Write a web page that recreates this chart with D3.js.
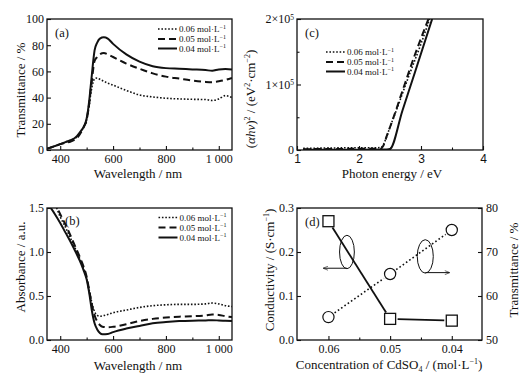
<!DOCTYPE html>
<html>
<head>
<meta charset="utf-8">
<script src="https://cdn.jsdelivr.net/npm/d3@7"></script>
<style>
  body { margin: 0; background: #fff; }
  svg { font-family: 'Liberation Serif', 'Times New Roman', serif; }
  text { fill: #111; }
</style>
</head>
<body>
<script>
// ---- data ----
const concLabels = ['0.06 mol·L', '0.05 mol·L', '0.04 mol·L']

// (a) transmittance spectra
const transWl = [350, 380, 400, 420, 440, 460, 480, 490, 500, 505, 510, 515, 520, 525, 530, 540, 550, 565, 580, 600, 650, 700, 750, 800, 850, 900, 950, 975, 1000, 1025, 1050]
const trans06 = [1, 3, 4.5, 6, 7.5, 9.5, 14.5, 18, 23, 28, 34, 42, 48, 52, 54.5, 55, 54, 52.5, 51, 49.5, 45.5, 42, 40.5, 39.5, 39, 38.7, 38.5, 37.8, 39, 41.5, 40]
const trans05 = [1, 3, 4.5, 5.5, 6.5, 8.5, 14, 18, 23, 29, 36, 45, 53, 62, 68, 71, 73, 74, 73, 71, 66, 62, 58.5, 56, 54.5, 53, 52, 51.8, 52.5, 53.5, 55]
const trans04 = [1, 3, 4.5, 6, 7.5, 10, 15, 18, 24, 30, 38, 48, 58, 68, 76, 82, 85, 86, 85, 81, 73, 67.5, 64, 62.5, 62, 61.5, 61, 60.5, 61.5, 61.8, 61.5]

// (b) absorbance spectra
const absWl = [360, 380, 400, 420, 440, 460, 480, 490, 500, 510, 520, 530, 540, 550, 560, 580, 600, 650, 700, 750, 800, 850, 900, 950, 975, 1000, 1025, 1050]
const abs06 = [1.68, 1.55, 1.4, 1.28, 1.15, 1.02, 0.88, 0.8, 0.7, 0.56, 0.42, 0.32, 0.28, 0.27, 0.275, 0.29, 0.31, 0.34, 0.37, 0.39, 0.4, 0.405, 0.405, 0.41, 0.42, 0.41, 0.39, 0.38]
const abs05 = [1.7, 1.56, 1.43, 1.31, 1.18, 1.04, 0.9, 0.82, 0.72, 0.56, 0.4, 0.28, 0.21, 0.17, 0.15, 0.145, 0.15, 0.18, 0.215, 0.24, 0.255, 0.265, 0.27, 0.28, 0.29, 0.285, 0.27, 0.26]
const abs04 = [1.52, 1.43, 1.33, 1.22, 1.11, 0.99, 0.86, 0.78, 0.69, 0.53, 0.33, 0.19, 0.12, 0.08, 0.065, 0.068, 0.09, 0.13, 0.16, 0.19, 0.205, 0.215, 0.22, 0.222, 0.225, 0.222, 0.218, 0.215]

// (c) Tauc plot
const taucE06 = [1.1, 1.5, 2.0, 2.3, 2.37, 2.42, 2.5, 2.6, 2.8, 3.0, 3.14]
const taucV06 = [2500, 3000, 3500, 3500, 5000, 14000, 35000, 60000, 112000, 162000, 200000]
const taucE05 = [1.1, 1.5, 2.0, 2.35, 2.39, 2.45, 2.55, 2.7, 2.9, 3.12]
const taucV05 = [1200, 1500, 1800, 2000, 6000, 22000, 48000, 90000, 145000, 200000]
const taucE04 = [1.1, 1.5, 2.0, 2.45, 2.5, 2.7, 2.9, 3.18]
const taucV04 = [300, 400, 500, 800, 1500, 60000, 118000, 200000]

// (d) conductivity & transmittance vs CdSO4 concentration
const conc = [0.06, 0.05, 0.04]
const conductivity = [0.27, 0.048, 0.044]
const transmittance = [55.2, 65, 75]
// ellipse/arrow annotations in data units [cx, cy, rx, ry, arrowTo]
const ellipseLeft = [0.057, 0.2, 0.0012, 0.038, 0.0608]
const ellipseRight = [0.0443, 0.19, 0.0013, 0.038, 0.0404]

// ---- layout ----
const W = 528, H = 386
const styles = [
  {width: 1.6, dash: '1.6,1.8'},
  {width: 2, dash: '7,4'},
  {width: 2, dash: null}
]
const svg = d3.select('body').append('svg').attr('width', W).attr('height', H)

function panel (box, xDomain, yDomain, id) {
  let x = d3.scaleLinear().domain(xDomain).range([box.x0, box.x1])
  let y = d3.scaleLinear().domain(yDomain).range([box.y1, box.y0])
  svg.append('clipPath').attr('id', id)
    .append('rect').attr('x', box.x0).attr('y', box.y0)
    .attr('width', box.x1 - box.x0).attr('height', box.y1 - box.y0)
  return {x, y, box}
}

function frame (p) {
  svg.append('rect').attr('x', p.box.x0).attr('y', p.box.y0)
    .attr('width', p.box.x1 - p.box.x0).attr('height', p.box.y1 - p.box.y0)
    .attr('fill', 'none').attr('stroke', '#111').attr('stroke-width', 1.3)
}

function styleAxis (g, size, family) {
  g.select('.domain').remove()
  g.attr('font-family', family || null).attr('font-size', size || 12)
  g.selectAll('line').attr('stroke', '#111').attr('stroke-width', 1.1)
  g.selectAll('text').attr('fill', '#111')
}

function bottomAxis (p, major, minor, fmt, family) {
  let g = svg.append('g').attr('transform', `translate(0,${p.box.y1})`)
  g.call(d3.axisBottom(p.x).tickValues(major).tickFormat(fmt)
    .tickSizeInner(-4).tickSizeOuter(0).tickPadding(4))
  styleAxis(g, 12, family)
  if (minor) {
    let m = svg.append('g').attr('transform', `translate(0,${p.box.y1})`)
    m.call(d3.axisBottom(p.x).tickValues(minor).tickSizeInner(-2.5).tickSizeOuter(0))
    styleAxis(m)
    m.selectAll('text').remove()
  }
  return g
}

function leftAxis (p, scale, major, minor, fmt) {
  let g = svg.append('g').attr('transform', `translate(${p.box.x0},0)`)
  g.call(d3.axisLeft(scale).tickValues(major).tickFormat(fmt)
    .tickSizeInner(-4).tickSizeOuter(0).tickPadding(3))
  styleAxis(g, 12)
  if (minor) {
    let m = svg.append('g').attr('transform', `translate(${p.box.x0},0)`)
    m.call(d3.axisLeft(scale).tickValues(minor).tickSizeInner(-2.5).tickSizeOuter(0))
    styleAxis(m)
    m.selectAll('text').remove()
  }
  return g
}

function xTitle (cx, y, str) {
  return svg.append('text').attr('x', cx).attr('y', y)
    .attr('text-anchor', 'middle').attr('font-size', 13).text(str)
}

function yTitle (x, cy, str) {
  return svg.append('text').attr('transform', `translate(${x},${cy}) rotate(-90)`)
    .attr('text-anchor', 'middle').attr('font-size', 13).text(str)
}

function legend (x0, ys) {
  ys.forEach((yy, i) => {
    svg.append('line').attr('x1', x0).attr('x2', x0 + 19).attr('y1', yy).attr('y2', yy)
      .attr('stroke', '#111').attr('stroke-width', styles[i].width)
      .attr('stroke-dasharray', styles[i].dash)
    let t = svg.append('text').attr('x', x0 + 21).attr('y', yy + 3).attr('font-size', 9)
      .text(concLabels[i])
    t.append('tspan').attr('dy', -3.5).attr('font-size', 6).text('−1')
  })
}

function series (p, clip, xs, ys, i) {
  let line = d3.line().x((d, k) => p.x(xs[k])).y((d) => p.y(d)).curve(d3.curveMonotoneX)
  svg.append('path').datum(ys).attr('d', line)
    .attr('clip-path', `url(#${clip})`)
    .attr('fill', 'none').attr('stroke', '#111')
    .attr('stroke-width', styles[i].width).attr('stroke-dasharray', styles[i].dash)
}

const fmtThousand = (d) => d3.format(',')(d).replace(',', ' ')
const wlMajor = [400, 600, 800, 1000]
const wlMinor = [500, 700, 900]

// ---- (a) transmittance ----
let pa = panel({x0: 47, x1: 232, y0: 19, y1: 150}, [350, 1050], [0, 100], 'clipA')
series(pa, 'clipA', transWl, trans06, 0)
series(pa, 'clipA', transWl, trans05, 1)
series(pa, 'clipA', transWl, trans04, 2)
bottomAxis(pa, wlMajor, wlMinor, fmtThousand)
leftAxis(pa, pa.y, [0, 20, 40, 60, 80, 100], null, d3.format('d'))
frame(pa)
legend(158, [29, 39, 48.5])
svg.append('text').attr('x', 55).attr('y', 37).attr('font-size', 12.5).text('(a)')
xTitle(138, 177.5, 'Wavelength / nm')
yTitle(25, 90, 'Transmittance / %')

// ---- (b) absorbance ----
let pb = panel({x0: 47, x1: 232, y0: 208, y1: 340}, [350, 1050], [0, 1.5], 'clipB')
series(pb, 'clipB', absWl, abs06, 0)
series(pb, 'clipB', absWl, abs05, 1)
series(pb, 'clipB', absWl, abs04, 2)
bottomAxis(pb, wlMajor, wlMinor, fmtThousand)
leftAxis(pb, pb.y, [0, 0.5, 1.0, 1.5], null, d3.format('.1f'))
frame(pb)
legend(158.5, [217.5, 227.5, 237.5])
svg.append('text').attr('x', 65).attr('y', 225).attr('font-size', 12.5).text('(b)')
xTitle(138, 369.5, 'Wavelength / nm')
yTitle(25, 267, 'Absorbance / a.u.')

// ---- (c) Tauc plot ----
let pc = panel({x0: 297, x1: 483, y0: 19, y1: 150}, [1, 4], [0, 2e5], 'clipC')
series(pc, 'clipC', taucE06, taucV06, 0)
series(pc, 'clipC', taucE05, taucV05, 1)
series(pc, 'clipC', taucE04, taucV04, 2)
bottomAxis(pc, [1, 2, 3, 4], [1.5, 2.5, 3.5], d3.format('d'), "'Liberation Sans', Arial, sans-serif")
let gc = leftAxis(pc, pc.y, [0, 1e5, 2e5], [0.5e5, 1.5e5], (d) => d)
gc.selectAll('.tick text').each(function (d) {
  let t = d3.select(this).text(null)
  if (d === 0) { t.text('0'); return }
  t.append('tspan').text(`${d / 1e5}×10`)
  t.append('tspan').attr('dy', '-0.45em').attr('font-size', 7.5).text('5')
})
frame(pc)
legend(326, [52, 62, 71.5])
svg.append('text').attr('x', 305).attr('y', 37).attr('font-size', 12.5).text('(c)')
xTitle(392, 177.5, 'Photon energy / eV')
let yc = svg.append('text').attr('transform', 'translate(255,99) rotate(-90)')
  .attr('text-anchor', 'middle').attr('font-size', 13)
yc.append('tspan').text('(')
yc.append('tspan').attr('font-style', 'italic').text('αhν')
yc.append('tspan').text(')')
yc.append('tspan').attr('dy', -5).attr('font-size', 8).text('2')
yc.append('tspan').attr('dy', 5).text(' / (eV')
yc.append('tspan').attr('dy', -5).attr('font-size', 8).text('2')
yc.append('tspan').attr('dy', 5).text('·cm')
yc.append('tspan').attr('dy', -5).attr('font-size', 8).text('−2')
yc.append('tspan').attr('dy', 5).text(')')

// ---- (d) conductivity / transmittance ----
let pd = panel({x0: 297, x1: 482, y0: 208, y1: 340}, [0.0651, 0.0351], [0, 0.3], 'clipD')
let yT = d3.scaleLinear().domain([50, 80]).range([340, 208])
bottomAxis(pd, conc, [0.055, 0.045], d3.format('.2f'))
leftAxis(pd, pd.y, [0, 0.1, 0.2, 0.3], null, d3.format('.1f'))
let gr = svg.append('g').attr('transform', `translate(${pd.box.x1},0)`)
gr.call(d3.axisRight(yT).tickValues([50, 60, 70, 80]).tickFormat(d3.format('d'))
  .tickSizeInner(-4).tickSizeOuter(0).tickPadding(4))
styleAxis(gr, 12)
frame(pd)

// connecting segments, shortened so they stop short of the markers
function gapSegments (pts, gap, width, dash) {
  for (let k = 0; k < pts.length - 1; k++) {
    let [x1, y1] = pts[k], [x2, y2] = pts[k + 1]
    let len = Math.hypot(x2 - x1, y2 - y1)
    let ux = (x2 - x1) / len, uy = (y2 - y1) / len
    svg.append('line')
      .attr('x1', x1 + ux * gap).attr('y1', y1 + uy * gap)
      .attr('x2', x2 - ux * gap).attr('y2', y2 - uy * gap)
      .attr('stroke', '#111').attr('stroke-width', width).attr('stroke-dasharray', dash)
  }
}
let sq = conc.map((c, i) => [pd.x(c), pd.y(conductivity[i])])
let ci = conc.map((c, i) => [pd.x(c), yT(transmittance[i])])
gapSegments(sq, 7.5, 1.8, null)
gapSegments(ci, 7.5, 1.6, '1.6,2.4')
svg.selectAll('.sq').data(sq).enter().append('rect')
  .attr('x', (d) => d[0] - 5.5).attr('y', (d) => d[1] - 5.5)
  .attr('width', 11).attr('height', 11)
  .attr('fill', '#fff').attr('stroke', '#111').attr('stroke-width', 1.3)
svg.selectAll('.ci').data(ci).enter().append('circle')
  .attr('cx', (d) => d[0]).attr('cy', (d) => d[1]).attr('r', 5.6)
  .attr('fill', '#fff').attr('stroke', '#111').attr('stroke-width', 1.2)

// ellipses with arrows pointing to the relevant axis
svg.append('defs').append('marker').attr('id', 'arrow')
  .attr('viewBox', '0 0 10 10').attr('refX', 9).attr('refY', 5)
  .attr('markerWidth', 6).attr('markerHeight', 5).attr('orient', 'auto')
  .append('path').attr('d', 'M0,1L10,5L0,9').attr('fill', 'none').attr('stroke', '#111').attr('stroke-width', 1.2)
;[ellipseLeft, ellipseRight].forEach((e) => {
  let cx = pd.x(e[0]), cy = pd.y(e[1])
  let rx = Math.abs(pd.x(e[0] + e[2]) - cx), ry = Math.abs(pd.y(e[1] + e[3]) - cy)
  svg.append('ellipse').attr('cx', cx).attr('cy', cy).attr('rx', rx).attr('ry', ry)
    .attr('fill', 'none').attr('stroke', '#111').attr('stroke-width', 1)
  svg.append('line').attr('x1', cx).attr('y1', cy + ry - 0.5)
    .attr('x2', pd.x(e[4])).attr('y2', cy + ry - 0.5)
    .attr('stroke', '#111').attr('stroke-width', 1).attr('marker-end', 'url(#arrow)')
})

svg.append('text').attr('x', 305).attr('y', 226).attr('font-size', 12.5).text('(d)')
let xd = svg.append('text').attr('x', 389).attr('y', 368.5)
  .attr('text-anchor', 'middle').attr('font-size', 13)
xd.append('tspan').text('Concentration of CdSO')
xd.append('tspan').attr('dy', 3).attr('font-size', 8).text('4')
xd.append('tspan').attr('dy', -3).text(' / (mol·L')
xd.append('tspan').attr('dy', -5).attr('font-size', 8).text('−1')
xd.append('tspan').attr('dy', 5).text(')')
let yd = svg.append('text').attr('transform', 'translate(274,270) rotate(-90)')
  .attr('text-anchor', 'middle').attr('font-size', 13)
yd.append('tspan').text('Conductivity / (S·cm')
yd.append('tspan').attr('dy', -5).attr('font-size', 8).text('−1')
yd.append('tspan').attr('dy', 5).text(')')
yTitle(518, 270, 'Transmittance / %')
</script>
</body>
</html>
